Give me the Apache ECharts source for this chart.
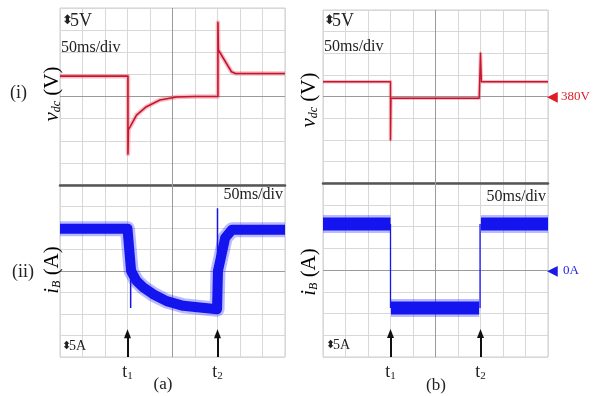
<!DOCTYPE html>
<html><head><meta charset="utf-8">
<script src="https://cdn.jsdelivr.net/npm/echarts/dist/echarts.min.js"></script>
<style>html,body{margin:0;padding:0;background:#fff}#c{width:606px;height:396px}</style>
</head><body><div id="c"></div>
<script>
// ---- data (ms, V / A) ----
const tMarks = [150, 350];
const tNames = ['1', '2'];
const vRef = 380;          // center line of voltage panels
const iRef = 0;            // center line of current panels
const tCenter = 250;       // center vertical line
// (a)(i) dc-link voltage
const vdcA = [[0,384.6],[151,384.6],[151,367],[152,372.5],[156,373.2],[170,375.8],[192,377.7],[222,379.2],[259,379.9],[300,380],[351,380],[351,396.7],[352,390.5],[381,385.6],[390,385.2],[500,385.2]];
// (b)(i) dc-link voltage
const vdcB = [[0,383.4],[150,383.4],[150,370],[151,379.6],[347,379.6],[350,379.6],[350,390],[352,383.4],[500,383.4]];
// (a)(ii) battery current band
const iA = [[0,9.8],[150,9.8],[158,0],[170,-2.3],[185,-3.8],[207,-5.4],[237,-7.0],[274,-8.1],[311,-8.5],[349,-8.9],[351,0],[367,7.7],[382,9.6],[500,9.6]];
const iASpike1 = [[157,1],[157,-8.6]];
const iASpike2 = [[350,-8.9],[350,14.6]];
// (b)(ii) battery current band
const iBpre = [[0,10.6],[150,10.6]];
const iBmid = [[151,-8.75],[347,-8.75]];
const iBpost = [[351,10.6],[500,10.6]];
const iBedges1 = [[150,10.6],[150,-8.75]];
const iBedges2 = [[349,-8.75],[349,10.6]];

const SERIF = '"Liberation Serif","Times New Roman",serif';
const chart = echarts.init(document.getElementById('c'), null, {renderer:'canvas'});

const grids = [
  {left:60, top:8, width:225, height:177},
  {left:60, top:185, width:225, height:172},
  {left:323, top:10, width:225, height:173},
  {left:323, top:183, width:225, height:174}
];
const isTop = [true,false,true,false];

const xAxes = grids.map((g,i)=>({
  type:'value', gridIndex:i, min:0, max:500, interval:50,
  axisTick:{show:false},
  axisLine:{show:isTop[i], onZero:false, lineStyle:{color:'#555', width:2.5}},
  splitLine:{show:true, lineStyle:{color:'#d8d8d8', width:1}},
  axisLabel: isTop[i] ? {show:false} : {
    show:true, margin:5, interval:0,
    formatter:(v)=>{ const k = tMarks.indexOf(v); return k>=0 ? '{t|t}{s|'+tNames[k]+'}' : ''; },
    rich:{t:{fontFamily:SERIF, fontSize:18, color:'#222'}, s:{fontFamily:SERIF, fontSize:11, color:'#222', verticalAlign:'bottom', padding:[9,0,0,0]}}
  }
}));
const yAxes = grids.map((g,i)=>({
  type:'value', gridIndex:i,
  min: isTop[i]?360:-20, max: isTop[i]?400:20, interval:5,
  axisTick:{show:false}, axisLabel:{show:false}, axisLine:{show:false},
  splitLine:{show:true, lineStyle:{color:'#d8d8d8', width:1}}
}));

function centerMark(yv){
  return {silent:true, symbol:'none', label:{show:false},
    lineStyle:{color:'#9a9a9a', width:1, type:'solid'},
    data:[{xAxis:tCenter},{yAxis:yv}]};
}
function arrowMark(){
  return {silent:true, symbol:'none', label:{show:false},
    lineStyle:{type:'solid', color:'#111', width:2},
    data: tMarks.map(t=>[{coord:[t,-20], symbol:'none'},{coord:[t,-14.6], symbol:'triangle', symbolSize:[7,9]}])};
}
function line(data, gi, color, width, extra){
  return Object.assign({type:'line', xAxisIndex:gi, yAxisIndex:gi, data:data, symbol:'none', silent:true, z:5,
    animation:false, lineStyle:{color:color, width:width, join:'round', cap:'butt'}}, extra||{});
}
function guide(gi, yv, withArrows){
  const s = {type:'line', xAxisIndex:gi, yAxisIndex:gi, data:[], symbol:'none', silent:true, z:1, markLine:centerMark(yv)};
  return withArrows ? [s, {type:'line', xAxisIndex:gi, yAxisIndex:gi, data:[], symbol:'none', silent:true, z:8, markLine:arrowMark()}] : [s];
}
const RED='#c8142c', RED_H='rgba(225,70,90,0.35)', BLUE='#1414ee', BLUE_H='rgba(40,40,255,0.32)';

const series = [].concat(
  guide(0,vRef,false), guide(1,iRef,true), guide(2,vRef,false), guide(3,iRef,true),
  [
  line(vdcA,0,RED_H,4.5),
  line(vdcA,0,RED,1.6),
  line(iA,1,BLUE_H,15),
  line(iA,1,BLUE,10),
  line(iASpike1,1,BLUE,1.5),
  line(iASpike2,1,BLUE,1.5),
  line(vdcB,2,RED_H,3.5),
  line(vdcB,2,RED,1.4),
  line(iBpre,3,BLUE_H,18),
  line(iBmid,3,BLUE_H,18),
  line(iBpost,3,BLUE_H,18),
  line(iBpre,3,BLUE,13),
  line(iBmid,3,BLUE,13),
  line(iBpost,3,BLUE,13),
  line(iBedges1,3,BLUE,1.3),
  line(iBedges2,3,BLUE,1.3)
]);

function txt(x,y,text,size,opts){
  return Object.assign({type:'text', x:x, y:y, silent:true, z:100,
    style:Object.assign({text:text, font:size+'px '+SERIF, fill:'#222', align:'left', verticalAlign:'middle', textAlign:'left', textVerticalAlign:'middle'}, (opts&&opts.style)||{})},
    opts&&opts.el||{});
}
const richY = {i:{fontFamily:SERIF, fontSize:21, fontStyle:'italic', color:'#222'}, s:{fontFamily:SERIF, fontSize:12, fontStyle:'italic', color:'#222', verticalAlign:'bottom', padding:[10,0,0,0]}, n:{fontFamily:SERIF, fontSize:21, color:'#222'}};
function ylab(x,y,sym,sub,unit){
  return {type:'text', x:x, y:y, rotation:Math.PI/2, silent:true, z:100,
    style:{text:'{i|'+sym+'}{s|'+sub+'}{n| ('+unit+')}', rich:richY, align:'center', verticalAlign:'middle', textAlign:'center', textVerticalAlign:'middle'}};
}
const ARW = '"DejaVu Sans",sans-serif';
const graphic = [
  txt(10,93,'(i)',18),
  txt(12,272,'(ii)',18),
  ylab(52,94,'v','dc','V'),
  ylab(309,100,'v','dc','V'),
  ylab(52,270,'i','B','A'),
  ylab(309,272,'i','B','A'),
  txt(62,21,'⬍',13,{style:{font:'bold 13px '+ARW}}),
  txt(70,21,'5V',18),
  txt(61,48,'50ms/div',16),
  txt(324,21,'⬍',13,{style:{font:'bold 13px '+ARW}}),
  txt(332,21,'5V',18),
  txt(324,47,'50ms/div',16),
  txt(283,195,'50ms/div',16,{style:{align:'right', textAlign:'right'}}),
  txt(546,197,'50ms/div',16,{style:{align:'right', textAlign:'right'}}),
  txt(62,346,'⬍',11,{style:{font:'bold 11px '+ARW}}),
  txt(69,346,'5A',14),
  txt(326,345,'⬍',11,{style:{font:'bold 11px '+ARW}}),
  txt(333,345,'5A',14),
  txt(547,97,'◀',14,{style:{font:'14px '+ARW, fill:'#e01b24'}}),
  txt(561,97,'380V',13,{style:{fill:'#e01b24'}}),
  txt(547,271,'◀',14,{style:{font:'14px '+ARW, fill:'#1a1ae6'}}),
  txt(563,271,'0A',13,{style:{fill:'#1a1ae6'}}),
  txt(163,385,'(a)',17,{style:{align:'center', textAlign:'center'}}),
  txt(436,386,'(b)',17,{style:{align:'center', textAlign:'center'}})
];

chart.setOption({
  animation:false,
  backgroundColor:'#fff',
  grid: grids.map(g=>Object.assign({show:true, borderColor:'#cfcfcf', borderWidth:1, containLabel:false}, g)),
  xAxis:xAxes, yAxis:yAxes, series:series, graphic:graphic
});
</script></body></html>
